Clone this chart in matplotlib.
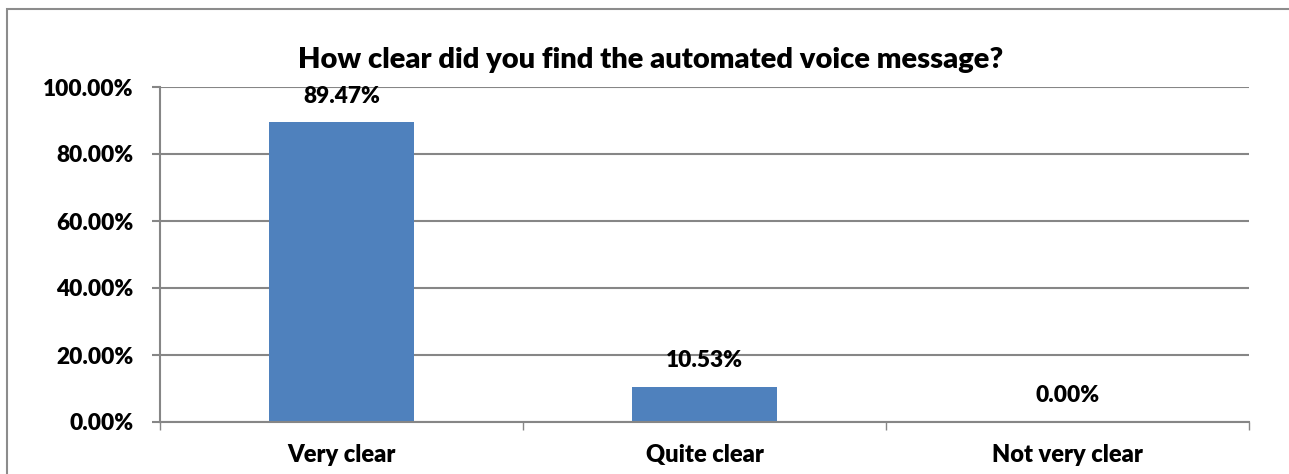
import matplotlib
matplotlib.use("Agg")
import matplotlib.pyplot as plt
from matplotlib.patches import Rectangle
from matplotlib.ticker import FuncFormatter, FixedLocator

categories = ["Very clear", "Quite clear", "Not very clear"]
values = [89.47, 10.53, 0.00]
yticks = [0, 20, 40, 60, 80, 100]
title = "How clear did you find the automated voice message?"

W, H = 1289, 474
fig = plt.figure(figsize=(W / 100, H / 100), dpi=100)
plt.rcParams['font.family'] = ['Lato', 'DejaVu Sans']
WEIGHT = "heavy"

# outer chart border (extends beyond right/bottom edges)
fig.patches.append(Rectangle((7 / W, -0.05), 1.2, 1 - 9 / H + 0.05,
                             transform=fig.transFigure, fill=False,
                             edgecolor="#8c8c8c", linewidth=1.5))

left, right, top, bottom = 160, 1249, 87, 422
ax = fig.add_axes([left / W, 1 - bottom / H, (right - left) / W, (bottom - top) / H])

grid_c = "#868686"
x = list(range(len(categories)))
ax.bar(x, values, width=0.4, color="#4F81BD", zorder=3)
ax.set_xlim(-0.5, len(categories) - 0.5)
ax.set_ylim(0, 100)

ax.yaxis.set_major_locator(FixedLocator(yticks))
ax.yaxis.set_major_formatter(FuncFormatter(lambda v, p: f"{v:.2f}%"))
ax.grid(axis="y", color=grid_c, linewidth=1.5, zorder=0)

ax.set_xticks(x)
ax.set_xticklabels(categories)
ax.set_xticks([i - 0.5 for i in range(len(categories) + 1)], minor=True)
ax.tick_params(axis="x", which="major", length=0, pad=16)
ax.tick_params(axis="x", which="minor", length=6, width=1, color=grid_c, direction="out")
ax.tick_params(axis="y", length=6, width=1.5, color=grid_c, direction="out", pad=13)

for lab in ax.get_xticklabels():
    lab.set_fontweight(WEIGHT)
    lab.set_fontsize(17)
for lab in ax.get_yticklabels():
    lab.set_fontweight(WEIGHT)
    lab.set_fontsize(16.3)

for s in ["top", "right"]:
    ax.spines[s].set_visible(False)
for s in ["left", "bottom"]:
    ax.spines[s].set_color(grid_c)
    ax.spines[s].set_linewidth(1.5)
    ax.spines[s].set_zorder(4)

for xi, v in zip(x, values):
    ax.annotate(f"{v:.2f}%", (xi, v), xytext=(0, 26), textcoords="offset pixels",
                ha="center", va="center", fontsize=16.3, fontweight=WEIGHT)

fig.text(0.505, 1 - 60 / H, title, ha="center", va="center",
         fontsize=21, fontweight=WEIGHT)

fig.savefig("out.png", dpi=100)
